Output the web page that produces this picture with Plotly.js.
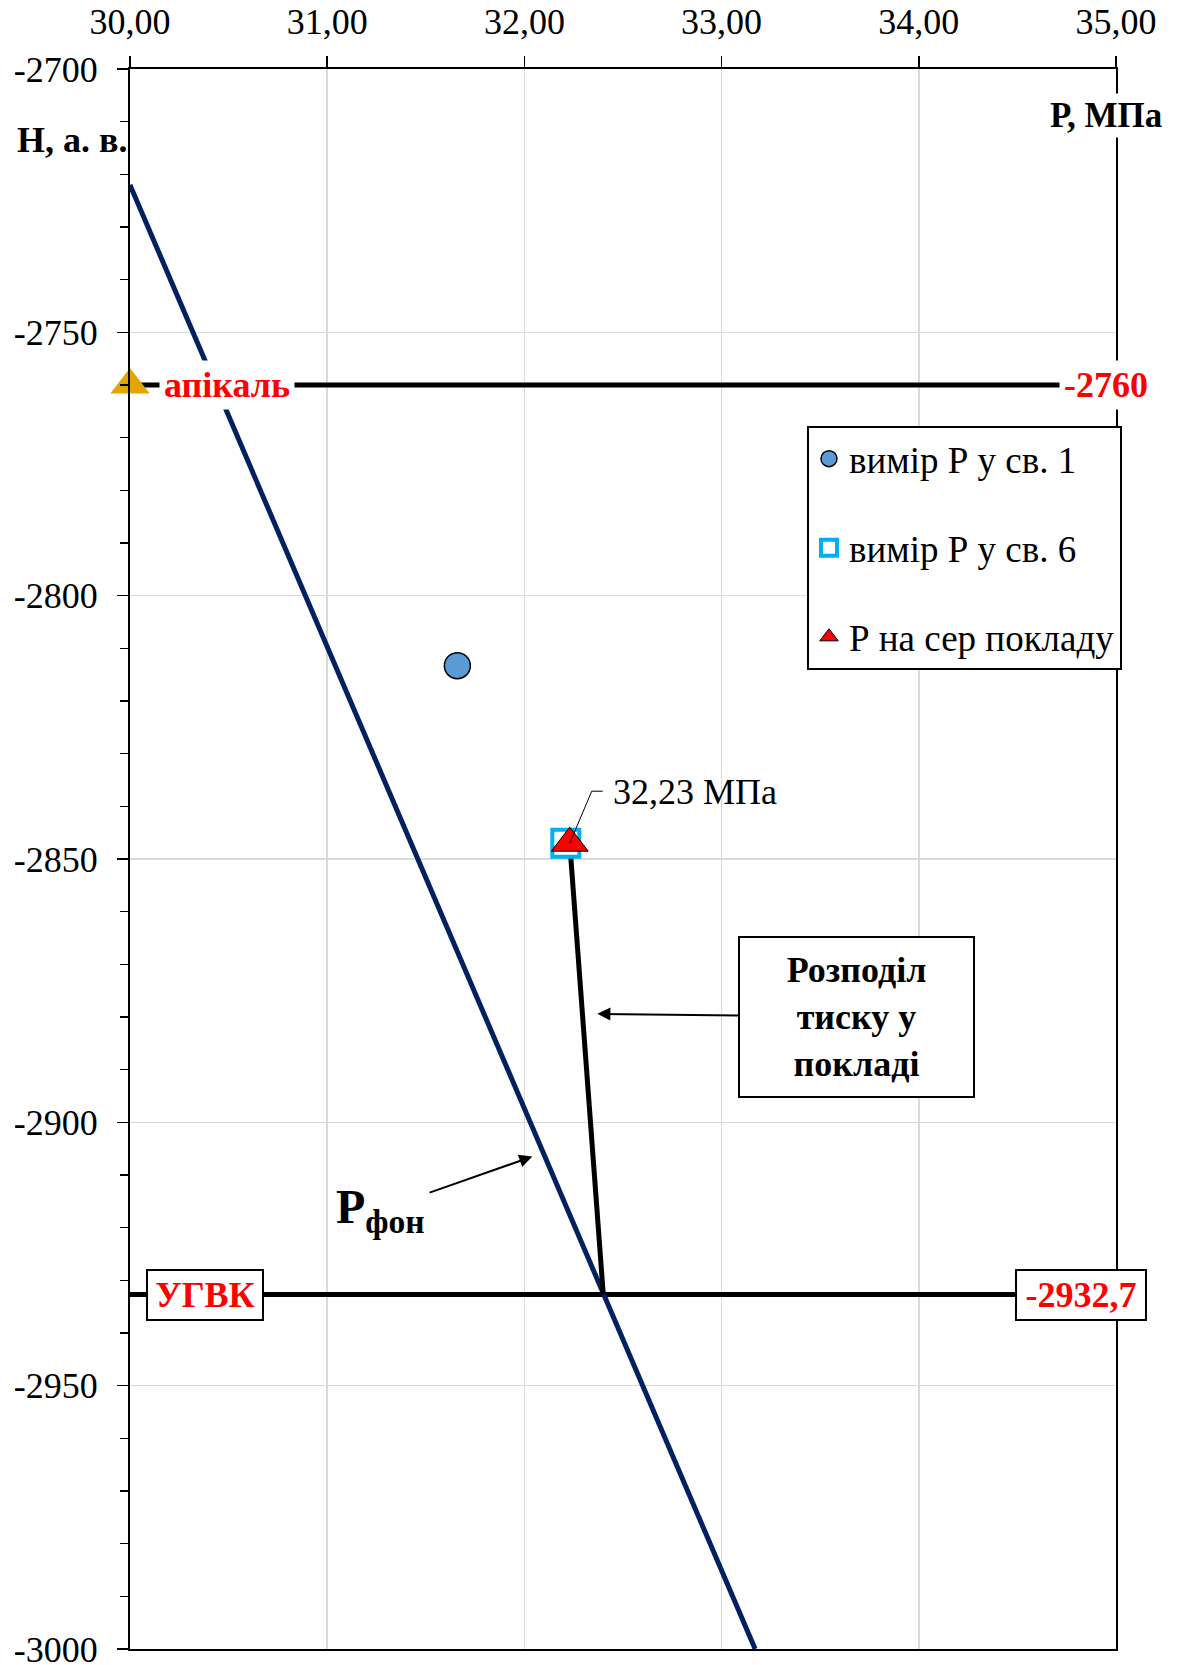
<!DOCTYPE html>
<html>
<head>
<meta charset="utf-8">
<script src="https://cdn.plot.ly/plotly-3.0.1.min.js"></script>
<style>
  html, body { margin: 0; padding: 0; background: #ffffff; }
  #chart { width: 1184px; height: 1665px; }
</style>
</head>
<body>
<div id="chart"></div>
<script>
// ---- data ----
const xTickVals = [30, 31, 32, 33, 34, 35];
const xTickText = ['30,00', '31,00', '32,00', '33,00', '34,00', '35,00'];
const yTickVals = [-3000, -2950, -2900, -2850, -2800, -2750, -2700];
const yTickText = ['-3000', '-2950', '-2900', '-2850', '-2800', '-2750', '-2700'];

// background (hydrostatic) pressure line P фон
const bgP = [30.00, 33.17];
const bgH = [-2722.0, -3000.0];

// pressure distribution in the deposit
const distP = [32.23, 32.40];
const distH = [-2847.0, -2932.7];

// apex and gas-water contact levels
const apexP = [30.00, 35.00];
const apexH = [-2760, -2760];
const owcP = [30.00, 35.00];
const owcH = [-2932.7, -2932.7];

// measured points
const well1P = [31.66];
const well1H = [-2813.3];
const well6P = [32.21];
const well6H = [-2847.0];
const avgP = [32.23];
const avgH = [-2847.0];
const apexMarkP = [30.00];
const apexMarkH = [-2760];

const seriesNames = ['вимір Р у св. 1', 'вимір Р у св. 6', 'Р на сер покладу'];

const FONT = '"Liberation Serif", "Times New Roman", serif';

const traces = [
  { x: apexP, y: apexH, mode: 'lines', line: { color: '#000000', width: 5 }, showlegend: false, hoverinfo: 'skip' },
  { x: owcP, y: owcH, mode: 'lines', line: { color: '#000000', width: 5 }, showlegend: false, hoverinfo: 'skip' },
  { x: bgP, y: bgH, mode: 'lines', line: { color: '#002060', width: 5 }, showlegend: false, hoverinfo: 'skip' },
  { x: distP, y: distH, mode: 'lines', line: { color: '#000000', width: 5 }, showlegend: false, hoverinfo: 'skip' },
  { x: apexMarkP, y: apexMarkH, mode: 'markers', showlegend: false, cliponaxis: false,
    marker: { symbol: 'triangle-up', size: 34, color: '#E3A600', line: { width: 0 } } },
  { x: well1P, y: well1H, mode: 'markers', name: seriesNames[0], legendgroup: 'g1',
    marker: { symbol: 'circle', size: 26, color: '#5B9BD5', line: { color: '#000000', width: 1.5 } } },
  { x: well6P, y: well6H, mode: 'markers', name: seriesNames[1], legendgroup: 'g2',
    marker: { symbol: 'square', size: 27, color: '#FFFFFF', line: { color: '#00B0F0', width: 4 } } },
  { x: avgP, y: avgH, mode: 'markers', name: seriesNames[2], legendgroup: 'g3',
    marker: { symbol: 'triangle-up', size: 32, color: '#FF0000', line: { color: '#000000', width: 1 } } }
];

const layout = {
  width: 1184,
  height: 1665,
  margin: { l: 130, r: 68, t: 69, b: 16, pad: 0 },
  paper_bgcolor: '#ffffff',
  plot_bgcolor: '#ffffff',
  font: { family: FONT, size: 36, color: '#000000' },
  hovermode: false,
  showlegend: true,
  xaxis: {
    side: 'top',
    range: [30, 35],
    tickmode: 'array',
    tickvals: xTickVals,
    ticktext: xTickText,
    ticks: 'outside',
    ticklen: 11,
    tickwidth: 1.5,
    tickcolor: '#000000',
    ticklabelstandoff: 8,
    ticklabeloverflow: 'allow',
    showline: true,
    linecolor: '#000000',
    linewidth: 2,
    mirror: true,
    showgrid: true,
    gridcolor: '#D9D9D9',
    gridwidth: 1.5,
    zeroline: false,
    automargin: false,
    tickfont: { family: FONT, size: 36, color: '#000000' }
  },
  yaxis: {
    range: [-3000, -2700],
    tickmode: 'array',
    tickvals: yTickVals,
    ticktext: yTickText,
    ticks: 'outside',
    ticklen: 11,
    tickwidth: 1.5,
    tickcolor: '#000000',
    ticklabelstandoff: 12,
    ticklabeloverflow: 'allow',
    minor: { dtick: 10, tick0: -3000, ticks: 'outside', ticklen: 8, tickwidth: 1.5, tickcolor: '#000000', showgrid: false },
    showline: true,
    linecolor: '#000000',
    linewidth: 2,
    mirror: true,
    showgrid: true,
    gridcolor: '#D9D9D9',
    gridwidth: 1.5,
    zeroline: false,
    automargin: false,
    tickfont: { family: FONT, size: 36, color: '#000000' }
  },
  yaxis2: {
    overlaying: 'y',
    side: 'left',
    anchor: 'x',
    range: [-3000, -2700],
    tickmode: 'array',
    tickvals: yTickVals,
    ticks: 'inside',
    ticklen: 7,
    tickwidth: 1.5,
    tickcolor: '#000000',
    minor: { dtick: 10, tick0: -3000, ticks: 'inside', ticklen: 8, tickwidth: 1.5, tickcolor: '#000000', showgrid: false },
    showticklabels: false,
    showgrid: false,
    showline: false,
    zeroline: false,
    automargin: false
  },
  legend: {
    x: 0.6866,
    y: 0.774,
    xanchor: 'left',
    yanchor: 'top',
    bgcolor: '#ffffff',
    bordercolor: '#000000',
    borderwidth: 2,
    tracegroupgap: 38,
    font: { family: FONT, size: 37, color: '#000000' }
  },
  shapes: [
    { type: 'path', xref: 'x', yref: 'y', xsizemode: 'pixel', ysizemode: 'pixel',
      xanchor: 32.23, yanchor: -2847, path: 'M0,0 L22,52 L33,52',
      line: { color: '#000000', width: 1 } }
  ],
  annotations: [
    { xref: 'paper', yref: 'paper', x: -0.0589, y: 0.955, xanchor: 'center', yanchor: 'middle',
      text: '<b>H, а. в.</b>', showarrow: false, font: { family: FONT, size: 36, color: '#000000' } },
    { xref: 'paper', yref: 'paper', x: 0.9899, y: 0.9703, xanchor: 'center', yanchor: 'middle',
      text: '<b>Р, МПа</b>', showarrow: false, bgcolor: '#ffffff', borderpad: 2,
      font: { family: FONT, size: 35, color: '#000000' } },
    { xref: 'x', yref: 'y', x: 30.493, y: -2760, xanchor: 'center', yanchor: 'middle',
      text: '<b>апікаль</b>', showarrow: false, bgcolor: '#ffffff', borderpad: 4,
      font: { family: FONT, size: 36, color: '#FF0000' } },
    { xref: 'x', yref: 'y', x: 34.95, y: -2760, xanchor: 'center', yanchor: 'middle',
      text: '<b>-2760</b>', showarrow: false, bgcolor: '#ffffff', borderpad: 4,
      font: { family: FONT, size: 36, color: '#FF0000' } },
    { xref: 'x', yref: 'y', x: 30.38, y: -2932.7, xanchor: 'center', yanchor: 'middle',
      text: '<b>УГВК</b>', showarrow: false, bgcolor: '#ffffff', bordercolor: '#000000', borderwidth: 2,
      borderpad: 2, width: 110, height: 44,
      font: { family: FONT, size: 36, color: '#FF0000' } },
    { xref: 'x', yref: 'y', x: 34.82, y: -2932.7, xanchor: 'center', yanchor: 'middle',
      text: '<b>-2932,7</b>', showarrow: false, bgcolor: '#ffffff', bordercolor: '#000000', borderwidth: 2,
      borderpad: 2, width: 124, height: 44,
      font: { family: FONT, size: 36, color: '#FF0000' } },
    { xref: 'x', yref: 'y', x: 32.37, y: -2879.4, ax: 258.7, ay: 3,
      text: '<b>Розподіл<br>тиску у<br>покладі</b>', align: 'center',
      showarrow: true, arrowhead: 2, arrowsize: 1.3, arrowwidth: 2, arrowcolor: '#000000',
      bgcolor: '#ffffff', bordercolor: '#000000', borderwidth: 2, borderpad: 4, width: 225, height: 150,
      font: { family: FONT, size: 36, color: '#000000' } },
    { xref: 'x', yref: 'y', x: 32.04, y: -2906.5, ax: -151.7, ay: 53.3,
      text: '<b>Р<sub>фон</sub></b>',
      showarrow: true, arrowhead: 2, arrowsize: 1.3, arrowwidth: 2, arrowcolor: '#000000',
      bgcolor: '#ffffff', borderpad: 4,
      font: { family: FONT, size: 48, color: '#000000' } },
    { xref: 'x', yref: 'y', x: 32.44, y: -2837.2, xanchor: 'left', yanchor: 'middle',
      text: '32,23 МПа', showarrow: false,
      font: { family: FONT, size: 36, color: '#000000' } }
  ]
};

Plotly.newPlot('chart', traces, layout, { displayModeBar: false, staticPlot: true });
</script>
</body>
</html>
